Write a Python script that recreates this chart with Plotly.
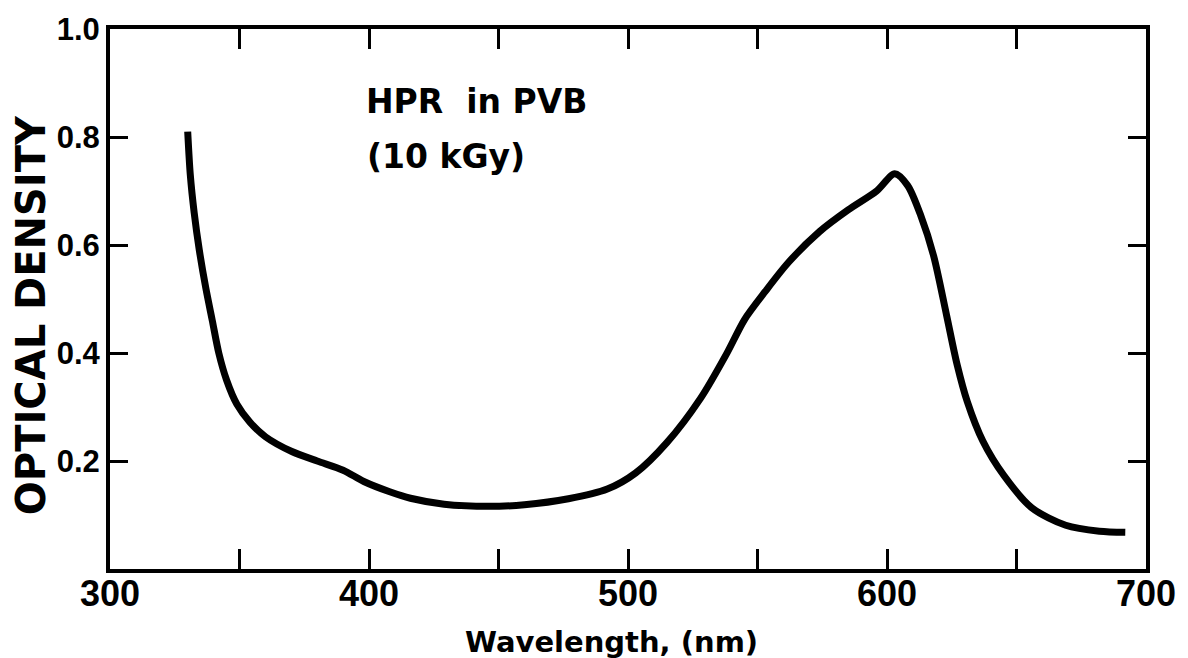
import plotly.graph_objects as go

wavelength = [330, 331, 332.5, 334.5, 337, 339.5, 342, 345, 349, 354, 360, 370, 380, 390,
              398, 408, 416, 429, 446, 460, 477, 492, 503, 515, 528, 538, 545, 553, 562,
              574, 585, 596, 603, 608, 613, 618, 623, 627, 631, 637, 645, 656, 669, 682, 692]
optical_density = [0.81, 0.73, 0.66, 0.59, 0.52, 0.46, 0.40, 0.35, 0.305, 0.272, 0.245,
                   0.218, 0.200, 0.183, 0.162, 0.143, 0.131, 0.120, 0.116, 0.119, 0.130,
                   0.148, 0.178, 0.234, 0.316, 0.398, 0.462, 0.514, 0.568, 0.625, 0.665,
                   0.700, 0.732, 0.710, 0.655, 0.580, 0.470, 0.380, 0.310, 0.237, 0.174,
                   0.113, 0.081, 0.070, 0.068]

x_tickvals = [300, 350, 400, 450, 500, 550, 600, 650, 700]
x_ticktext = ["300", "", "400", "", "500", "", "600", "", "700"]
y_tickvals = [0.2, 0.4, 0.6, 0.8, 1.0]
y_ticktext = ["0.2", "0.4", "0.6", "0.8", "1.0"]

FONT_TICK = "Liberation Sans, Arial, sans-serif"
FONT_TEXT = "DejaVu Sans, sans-serif"

fig = go.Figure()
fig.add_trace(go.Scatter(x=wavelength, y=optical_density, mode="lines",
                         line=dict(color="black", width=7, shape="spline", smoothing=0.8),
                         showlegend=False, hoverinfo="skip"))

fig.update_layout(
    width=1188, height=658,
    margin=dict(l=110, r=30, t=29, b=89),
    paper_bgcolor="white", plot_bgcolor="white",
    xaxis=dict(range=[300, 700], tickvals=x_tickvals, ticktext=x_ticktext,
               ticks="inside", ticklen=20, tickwidth=3, tickcolor="black",
               showline=True, linecolor="black", linewidth=4, mirror="ticks",
               showgrid=False, zeroline=False, ticklabeloverflow="allow",
               ticklabelstandoff=-10,
               tickfont=dict(family=FONT_TICK, size=36, color="black", weight="bold")),
    yaxis=dict(range=[0, 1], tickvals=y_tickvals, ticktext=y_ticktext,
               ticks="inside", ticklen=18, tickwidth=3, tickcolor="black",
               showline=True, linecolor="black", linewidth=4, mirror="ticks",
               showgrid=False, zeroline=False, ticklabeloverflow="allow",
               tickfont=dict(family=FONT_TICK, size=31, color="black", weight="bold")),
)

annotations = [
    dict(text="HPR&nbsp;&nbsp;in PVB", x=398, y=0.865, xref="x", yref="y",
         xanchor="left", yanchor="middle", showarrow=False,
         font=dict(family=FONT_TEXT, size=33, color="black", weight="bold")),
    dict(text="(10 kGy)", x=398.5, y=0.764, xref="x", yref="y",
         xanchor="left", yanchor="middle", showarrow=False,
         font=dict(family=FONT_TEXT, size=33, color="black", weight="bold")),
    dict(text="Wavelength, (nm)", x=0.484, y=-0.135, xref="paper", yref="paper",
         xanchor="center", yanchor="middle", showarrow=False,
         font=dict(family=FONT_TEXT, size=29, color="black", weight="bold")),
    dict(text="OPTICAL DENSITY", x=-0.0763, y=0.47, xref="paper", yref="paper",
         xanchor="center", yanchor="middle", showarrow=False, textangle=-90,
         font=dict(family=FONT_TEXT, size=40, color="black", weight="bold")),
]
fig.update_layout(annotations=annotations)

fig.write_html("out.html")
